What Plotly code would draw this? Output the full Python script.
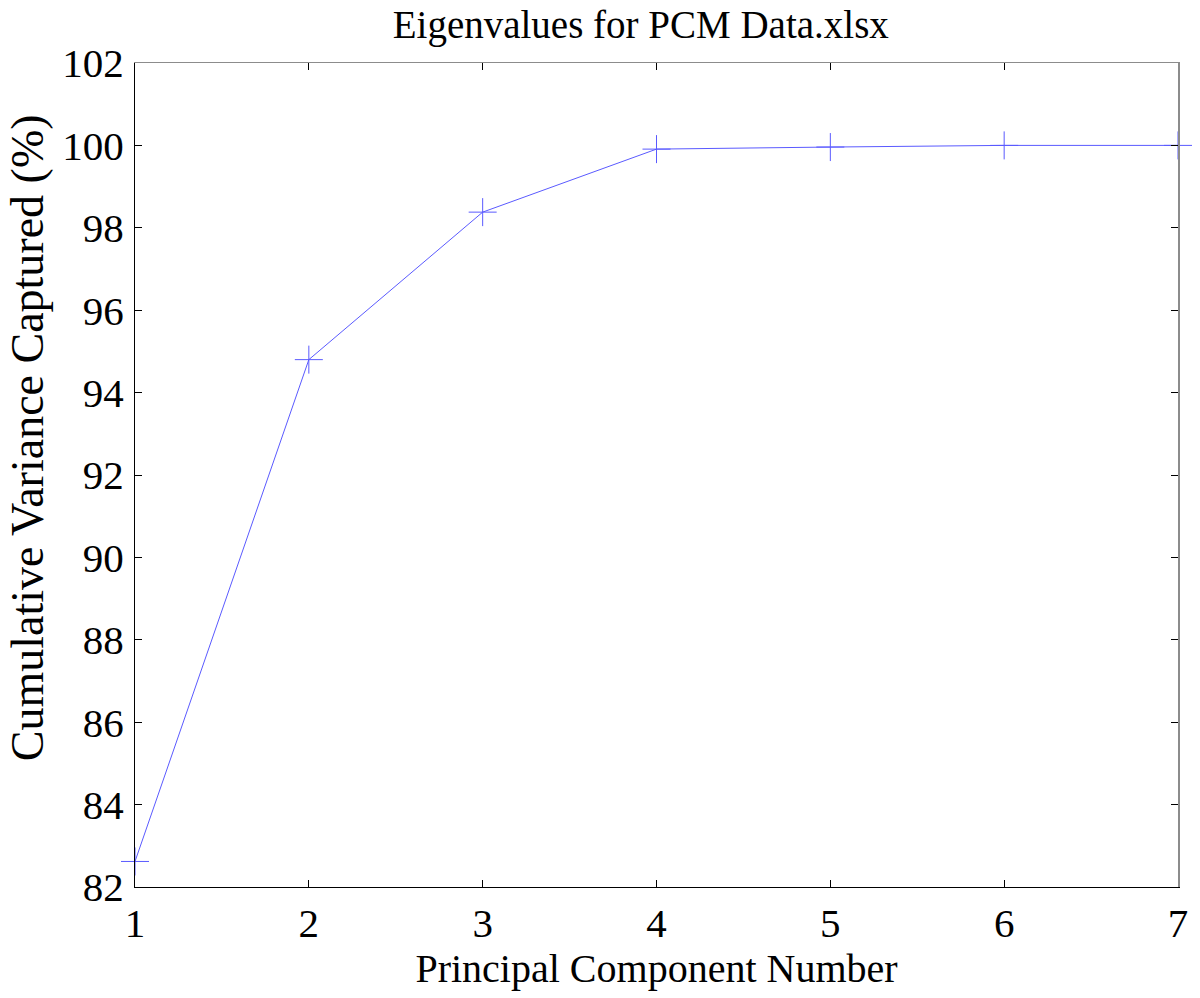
import plotly.graph_objects as go

components = [1, 2, 3, 4, 5, 6, 7]
cum_variance = [82.62, 94.8, 98.38, 99.91, 99.96, 100.0, 100.0]
x_ticks = [1, 2, 3, 4, 5, 6, 7]
y_ticks = [82, 84, 86, 88, 90, 92, 94, 96, 98, 100, 102]

font = "Liberation Serif, Times New Roman, serif"
blue = "rgb(90,90,255)"
gray = "rgb(140,140,140)"

fig = go.Figure()
fig.add_trace(go.Scatter(
    x=components, y=cum_variance, mode="lines+markers",
    line=dict(color=blue, width=1),
    marker=dict(symbol="cross-thin", size=20, line=dict(color=blue, width=1)),
    cliponaxis=False, showlegend=False,
))
# invisible trace so the mirrored (top/right) frame axes are drawn
fig.add_trace(go.Scatter(
    x=components, y=cum_variance, xaxis="x2", yaxis="y2", mode="lines",
    line=dict(color="rgba(0,0,0,0)", width=0), hoverinfo="skip", showlegend=False,
))

fig.update_layout(
    width=1200, height=998,
    paper_bgcolor="white", plot_bgcolor="white",
    margin=dict(l=135, r=19, t=63, b=111),
    title=dict(text="Eigenvalues for PCM Data.xlsx", x=0.534, xanchor="center",
               y=0.976, yanchor="middle",
               font=dict(family=font, size=39, color="black")),
    font=dict(family=font, color="black"),
    xaxis=dict(
        range=[1, 7], tickvals=x_ticks, ticks="inside", ticklen=7, tickcolor="black",
        showline=True, linecolor="black", linewidth=1, mirror=False,
        showgrid=False, zeroline=False,
        tickfont=dict(family=font, size=41, color="black"),
        title=dict(text="Principal Component Number", standoff=2,
                   font=dict(family=font, size=40, color="black")),
    ),
    yaxis=dict(
        range=[82, 102], tickvals=y_ticks, ticks="inside", ticklen=7, tickcolor="black",
        showline=True, linecolor="black", linewidth=1, mirror=False,
        showgrid=False, zeroline=False, ticklabelstandoff=2,
        tickfont=dict(family=font, size=41, color="black"),
    ),
    xaxis2=dict(
        overlaying="x", side="top", range=[1, 7], tickvals=x_ticks,
        ticks="inside", ticklen=7, tickcolor="black", showticklabels=False,
        showline=True, linecolor=gray, linewidth=1,
        showgrid=False, zeroline=False,
    ),
    yaxis2=dict(
        overlaying="y", side="right", range=[82, 102], tickvals=y_ticks,
        ticks="inside", ticklen=7, tickcolor="black", showticklabels=False,
        showline=True, linecolor=gray, linewidth=2,
        showgrid=False, zeroline=False,
    ),
    annotations=[dict(
        text="Cumulative Variance Captured (%)", textangle=-90,
        xref="paper", yref="paper", x=-0.1023, y=0.545,
        xanchor="center", yanchor="middle", showarrow=False,
        font=dict(family=font, size=46, color="black"),
    )],
)
fig.write_html("out.html",
               config={"displayModeBar": False},
               post_script="document.body.style.margin='0';document.body.style.overflow='hidden';")
